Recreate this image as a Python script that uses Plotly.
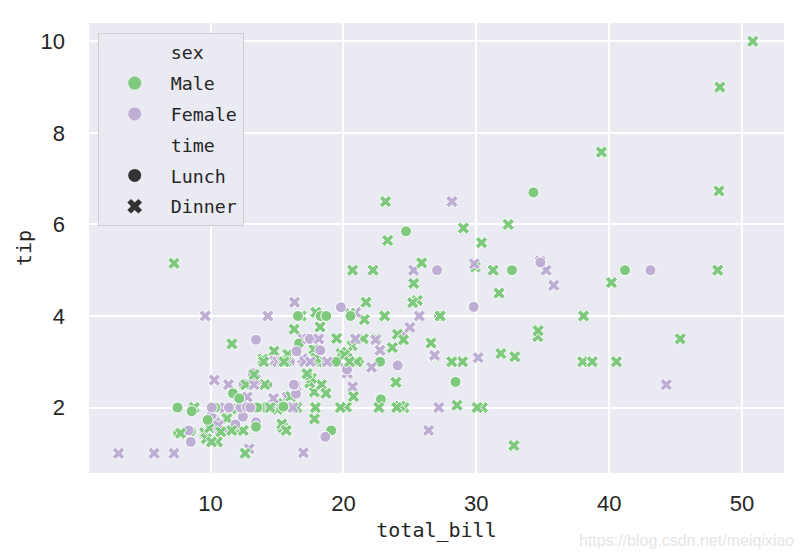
import plotly.graph_objects as go

# ---- data (seaborn "tips"), row order preserved ----
total_bill = [
    16.99, 10.34, 21.01, 23.68, 24.59, 25.29, 8.77, 26.88, 15.04, 14.78,
    10.27, 35.26, 15.42, 18.43, 14.83, 21.58, 10.33, 16.29, 16.97, 20.65,
    17.92, 20.29, 15.77, 39.42, 19.82, 17.81, 13.37, 12.69, 21.70, 19.65,
    9.55, 18.35, 15.06, 20.69, 17.78, 24.06, 16.31, 16.93, 18.69, 31.27,
    16.04, 17.46, 13.94, 9.68, 30.40, 18.29, 22.23, 32.40, 28.55, 18.04,
    12.54, 10.29, 34.81, 9.94, 25.56, 19.49, 38.01, 26.41, 11.24, 48.27,
    20.29, 13.81, 11.02, 18.29, 17.59, 20.08, 16.45, 3.07, 20.23, 15.01,
    12.02, 17.07, 26.86, 25.28, 14.73, 10.51, 17.92, 27.20, 22.76, 17.29,
    19.44, 16.66, 10.07, 32.68, 15.98, 34.83, 13.03, 18.28, 24.71, 21.16,
    28.97, 22.49, 5.75, 16.32, 22.75, 40.17, 27.28, 12.03, 21.01, 12.46,
    11.35, 15.38, 44.30, 22.42, 20.92, 15.36, 20.49, 25.21, 18.24, 14.31,
    14.00, 7.25, 38.07, 23.95, 25.71, 17.31, 29.93, 10.65, 12.43, 24.08,
    11.69, 13.42, 14.26, 15.95, 12.48, 29.80, 8.52, 14.52, 11.38, 22.82,
    19.08, 20.27, 11.17, 12.26, 18.26, 8.51, 10.33, 14.15, 16.00, 13.16,
    17.47, 34.30, 41.19, 27.05, 16.43, 8.35, 18.64, 11.87, 9.78, 7.51,
    14.07, 13.13, 17.26, 24.55, 19.77, 29.85, 48.17, 25.00, 13.39, 16.49,
    21.50, 12.66, 16.21, 13.81, 17.51, 24.52, 20.76, 31.71, 10.59, 10.63,
    50.81, 15.81, 7.25, 31.85, 16.82, 32.90, 17.89, 14.48, 9.60, 34.63,
    34.65, 23.33, 45.35, 23.17, 40.55, 20.69, 20.90, 30.46, 18.15, 23.10,
    15.69, 19.81, 28.44, 15.48, 16.58, 7.56, 10.34, 43.11, 13.00, 13.51,
    18.71, 12.74, 13.00, 16.40, 20.53, 16.47, 26.59, 38.73, 24.27, 12.76,
    30.06, 25.89, 48.33, 13.27, 28.17, 12.90, 28.15, 11.59, 7.74, 30.14,
    12.16, 13.42, 8.58, 15.98, 13.42, 16.27, 10.09, 20.45, 13.28, 22.12,
    24.01, 15.69, 11.61, 10.77, 15.53, 10.07, 12.60, 32.83, 35.83, 29.03,
    27.18, 22.67, 17.82, 18.78,
]

tip = [
    1.01, 1.66, 3.50, 3.31, 3.61, 4.71, 2.00, 3.12, 1.96, 3.23,
    1.71, 5.00, 1.57, 3.00, 3.02, 3.92, 1.67, 3.71, 3.50, 3.35,
    4.08, 2.75, 2.23, 7.58, 3.18, 2.34, 2.00, 2.00, 4.30, 3.00,
    1.45, 2.50, 3.00, 2.45, 3.27, 3.60, 2.00, 3.07, 2.31, 5.00,
    2.24, 2.54, 3.06, 1.32, 5.60, 3.00, 5.00, 6.00, 2.05, 3.00,
    2.50, 2.60, 5.20, 1.56, 4.34, 3.51, 3.00, 1.50, 1.76, 6.73,
    3.21, 2.00, 1.98, 3.76, 2.64, 3.15, 2.47, 1.00, 2.01, 2.09,
    1.97, 3.00, 3.14, 5.00, 2.20, 1.25, 3.08, 4.00, 3.00, 2.71,
    3.00, 3.40, 1.83, 5.00, 2.03, 5.17, 2.00, 4.00, 5.85, 3.00,
    3.00, 3.50, 1.00, 4.30, 3.25, 4.73, 4.00, 1.50, 3.00, 1.50,
    2.50, 3.00, 2.50, 3.48, 4.08, 1.64, 4.06, 4.29, 3.76, 4.00,
    3.00, 1.00, 4.00, 2.55, 4.00, 3.50, 5.07, 1.50, 1.80, 2.92,
    2.31, 1.68, 2.50, 2.00, 2.52, 4.20, 1.48, 2.00, 2.00, 2.18,
    1.50, 2.83, 1.50, 2.00, 3.25, 1.25, 2.00, 2.00, 2.00, 2.75,
    3.50, 6.70, 5.00, 5.00, 2.30, 1.50, 1.36, 1.63, 1.73, 2.00,
    2.50, 2.00, 2.74, 2.00, 2.00, 5.14, 5.00, 3.75, 2.61, 2.00,
    3.50, 2.50, 2.00, 2.00, 3.00, 3.48, 2.24, 4.50, 1.61, 2.00,
    10.00, 3.16, 5.15, 3.18, 4.00, 3.11, 2.00, 2.00, 4.00, 3.55,
    3.68, 5.65, 3.50, 6.50, 3.00, 5.00, 3.50, 2.00, 3.50, 4.00,
    1.50, 4.19, 2.56, 2.02, 4.00, 1.44, 2.00, 5.00, 2.00, 2.00,
    4.00, 2.01, 2.00, 2.50, 4.00, 3.23, 3.41, 3.00, 2.03, 2.23,
    2.00, 5.16, 9.00, 2.50, 6.50, 1.10, 3.00, 1.50, 1.44, 3.09,
    2.20, 3.48, 1.92, 3.00, 1.58, 2.50, 2.00, 3.00, 2.72, 2.88,
    2.00, 3.00, 3.39, 1.47, 3.00, 1.25, 1.00, 1.17, 4.67, 5.92,
    2.00, 2.00, 1.75, 3.00,
]

# M = Male, F = Female
sex = [
    "F", "M", "M", "M", "F", "M", "M", "M", "M", "M",
    "M", "F", "M", "M", "F", "M", "F", "M", "F", "M",
    "M", "F", "F", "M", "M", "M", "M", "M", "M", "F",
    "M", "M", "F", "F", "M", "M", "M", "F", "M", "M",
    "M", "M", "M", "M", "M", "M", "M", "M", "M", "M",
    "M", "F", "F", "M", "M", "M", "M", "F", "M", "M",
    "M", "M", "M", "M", "M", "M", "F", "F", "M", "M",
    "M", "F", "F", "F", "F", "M", "M", "M", "M", "M",
    "M", "M", "F", "M", "M", "F", "M", "M", "M", "M",
    "M", "M", "F", "F", "F", "M", "M", "M", "M", "M",
    "F", "F", "F", "F", "F", "M", "M", "M", "M", "F",
    "M", "F", "M", "M", "F", "F", "M", "F", "F", "F",
    "M", "F", "M", "M", "F", "F", "M", "F", "F", "M",
    "M", "F", "F", "F", "F", "F", "F", "F", "M", "F",
    "F", "M", "M", "F", "F", "F", "F", "F", "M", "M",
    "M", "M", "M", "M", "M", "F", "M", "F", "F", "M",
    "M", "M", "F", "M", "F", "M", "M", "M", "F", "F",
    "M", "M", "M", "M", "M", "M", "M", "M", "F", "M",
    "M", "M", "M", "M", "M", "M", "F", "M", "F", "M",
    "M", "F", "M", "M", "M", "M", "M", "F", "F", "M",
    "M", "F", "F", "F", "M", "F", "M", "M", "M", "F",
    "M", "M", "M", "F", "F", "F", "M", "M", "M", "F",
    "M", "F", "M", "F", "M", "F", "F", "M", "M", "F",
    "M", "M", "M", "M", "M", "M", "M", "M", "F", "M",
    "F", "M", "M", "F",
]

# L = Lunch, D = Dinner
time = [
    "D", "D", "D", "D", "D", "D", "D", "D", "D", "D",
    "D", "D", "D", "D", "D", "D", "D", "D", "D", "D",
    "D", "D", "D", "D", "D", "D", "D", "D", "D", "D",
    "D", "D", "D", "D", "D", "D", "D", "D", "D", "D",
    "D", "D", "D", "D", "D", "D", "D", "D", "D", "D",
    "D", "D", "D", "D", "D", "D", "D", "D", "D", "D",
    "D", "D", "D", "D", "D", "D", "D", "D", "D", "D",
    "D", "D", "D", "D", "D", "D", "D", "L", "L", "L",
    "L", "L", "L", "L", "L", "L", "L", "L", "L", "L",
    "D", "D", "D", "D", "D", "D", "D", "D", "D", "D",
    "D", "D", "D", "D", "D", "D", "D", "D", "D", "D",
    "D", "D", "D", "D", "D", "D", "D", "L", "L", "L",
    "L", "L", "L", "L", "L", "L", "L", "L", "L", "L",
    "L", "L", "L", "L", "L", "L", "L", "L", "L", "L",
    "L", "L", "L", "L", "L", "L", "L", "L", "L", "L",
    "D", "D", "D", "D", "D", "D", "D", "D", "D", "D",
    "D", "D", "D", "D", "D", "D", "D", "D", "D", "D",
    "D", "D", "D", "D", "D", "D", "D", "D", "D", "D",
    "D", "D", "D", "D", "D", "D", "D", "D", "D", "D",
    "D", "L", "L", "L", "L", "L", "L", "L", "L", "L",
    "L", "L", "L", "L", "L", "L", "D", "D", "D", "D",
    "D", "D", "D", "D", "D", "D", "D", "D", "D", "D",
    "L", "L", "L", "L", "L", "L", "L", "D", "D", "D",
    "D", "D", "D", "D", "D", "D", "D", "D", "D", "D",
    "D", "D", "D", "D",
]

sex_labels = {"M": "Male", "F": "Female"}
time_labels = {"L": "Lunch", "D": "Dinner"}
x_ticks = [10, 20, 30, 40, 50]
y_ticks = [2, 4, 6, 8, 10]

assert len(total_bill) == len(tip) == len(sex) == len(time)

# ---- styling ----
sex_colors = {"M": "#7fc97f", "F": "#beaed4"}
time_symbols = {"L": "circle", "D": "x"}
style_color = "#333333"
text_color = "#262626"
mono = "DejaVu Sans Mono, Liberation Mono, monospace"
sans = "Liberation Sans, Arial, sans-serif"

fig = go.Figure()

fig.add_trace(go.Scatter(
    x=total_bill, y=tip, mode="markers", showlegend=False,
    marker=dict(
        color=[sex_colors[s] for s in sex],
        symbol=[time_symbols[t] for t in time],
        size=11,
        line=dict(color="white", width=1),
    ),
    hoverinfo="skip",
))

def legend_entry(name, color, symbol, group):
    fig.add_trace(go.Scatter(
        x=[None], y=[None], mode="markers", name=name, legendgroup=group,
        marker=dict(color=color, symbol=symbol, size=13, line=dict(width=0)),
    ))

legend_entry("sex", "rgba(0,0,0,0)", "circle", "g1")
legend_entry(sex_labels["M"], sex_colors["M"], "circle", "g2")
legend_entry(sex_labels["F"], sex_colors["F"], "circle", "g3")
legend_entry("time", "rgba(0,0,0,0)", "circle", "g4")
legend_entry(time_labels["L"], style_color, time_symbols["L"], "g5")
legend_entry(time_labels["D"], style_color, time_symbols["D"], "g6")

axis_common = dict(
    showgrid=True, gridcolor="white", gridwidth=1.8,
    zeroline=False, showline=False, ticks="", automargin=False,
    tickfont=dict(family=sans, size=22, color=text_color),
)

# the page body adds an 8px offset, so margins are compensated
fig.update_layout(
    width=805, height=557,
    margin=dict(l=81, r=29, t=15, b=92),
    paper_bgcolor="white", plot_bgcolor="#eaeaf2",
    xaxis=dict(
        range=[0.85, 53.16], tickvals=x_ticks, ticklabelstandoff=15,
        title=dict(text="total_bill", font=dict(family=mono, size=20, color=text_color), standoff=7),
        **axis_common,
    ),
    yaxis=dict(
        range=[0.57, 10.40], tickvals=y_ticks, ticklabelstandoff=23,
        title=dict(text="tip", font=dict(family=mono, size=20, color=text_color), standoff=3),
        **axis_common,
    ),
    legend=dict(
        x=0.0125, y=0.978, xanchor="left", yanchor="top",
        bgcolor="#eaeaf2", bordercolor="#cfcfcf", borderwidth=1,
        font=dict(family=mono, size=18.3, color=text_color),
        tracegroupgap=4, itemwidth=62,
        traceorder="grouped",
    ),
    showlegend=True,
    annotations=[dict(
        text="https://blog.csdn.net/meiqixiao", xref="paper", yref="paper",
        x=1.017, y=-0.149, xanchor="right", yanchor="middle", showarrow=False,
        font=dict(family=sans, size=16, color="#e6e6e6"),
    )],
)

fig.write_html("out.html")
